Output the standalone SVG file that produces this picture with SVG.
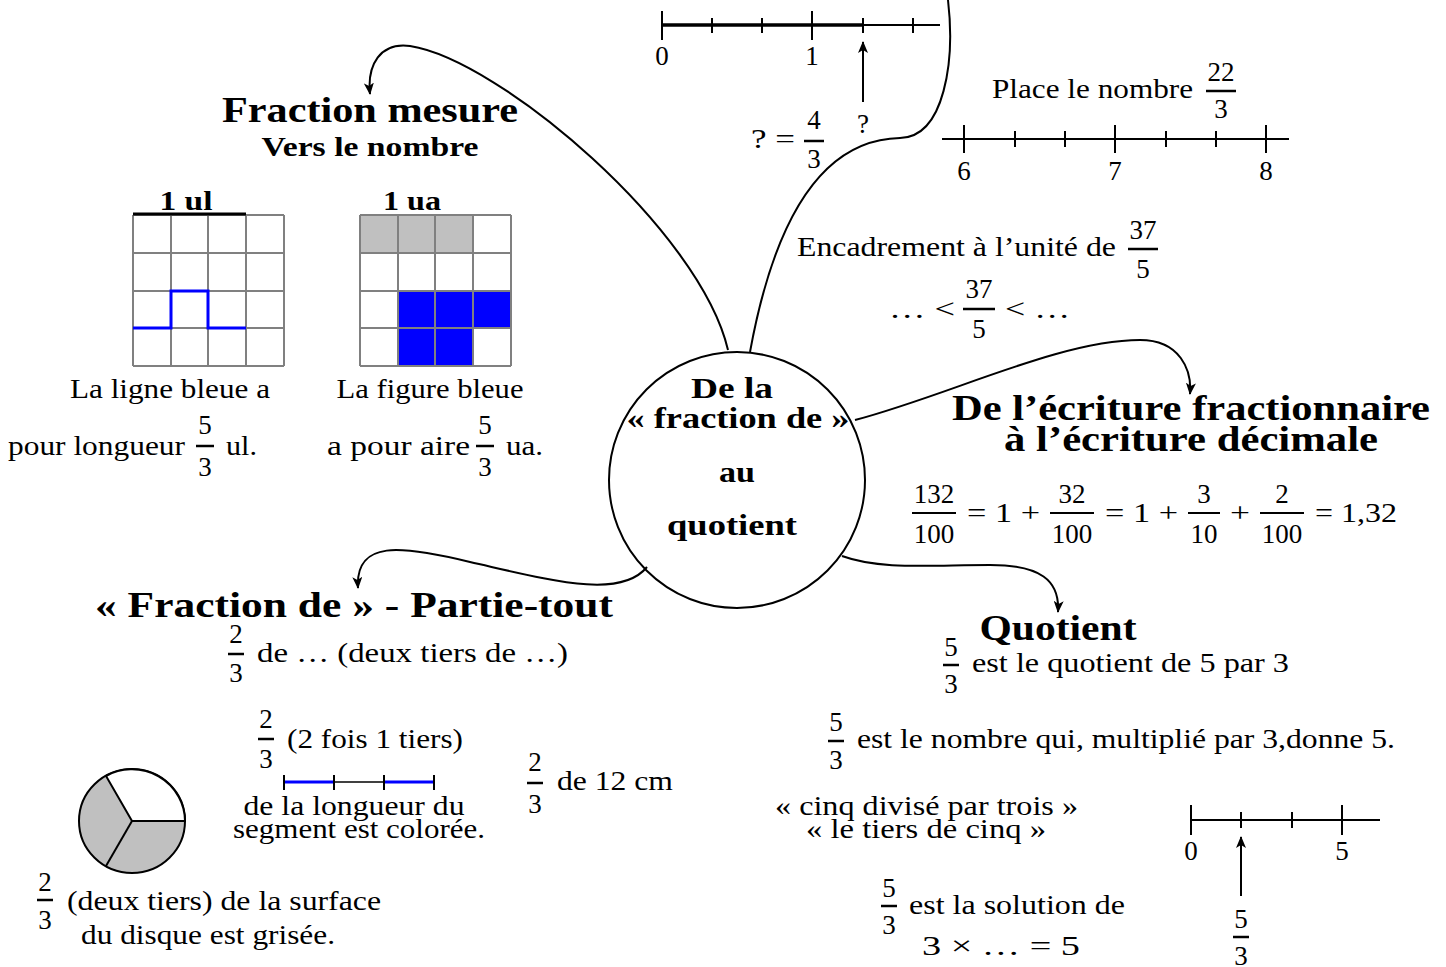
<svg xmlns="http://www.w3.org/2000/svg" width="1446" height="967" viewBox="0 0 1446 967">
<defs>
<marker id="ah" viewBox="0 0 12 10" refX="11" refY="5" markerWidth="12" markerHeight="10" markerUnits="userSpaceOnUse" orient="auto">
<path d="M0,0 L12,5 L0,10 L3,5 z" fill="#000"/>
</marker>
</defs>
<style>
text{font-family:"Liberation Serif","DejaVu Serif",serif;fill:#000}
.t{font-size:27px}
.c{text-anchor:middle}
.h{font-size:36px;font-weight:bold;text-anchor:middle}
.h2{font-size:27px;font-weight:bold;text-anchor:middle}
.b{font-size:30px;font-weight:bold;text-anchor:middle}
.fb{stroke:#000;stroke-width:2.5}
.ln{stroke:#000;stroke-width:2;fill:none}
.g{stroke:#808080;stroke-width:2;fill:none}
.con{stroke:#000;stroke-width:2;fill:none}
</style>
<rect width="1446" height="967" fill="#fff"/>

<g id="connectors">
<path class="con" d="M750,352 C765,270 800,140 900,138 C945,137 955,60 948,0"/>
<path class="con" d="M728,350 C700,230 500,60 410,46 C380,42 367,65 370,94" marker-end="url(#ah)"/>
<path class="con" d="M855,420 C950,395 1060,340 1140,340 C1180,340 1192,370 1190,394" marker-end="url(#ah)"/>
<path class="con" d="M842,556 C880,570 930,565 990,565 C1040,565 1060,580 1058,612" marker-end="url(#ah)"/>
<path class="con" d="M647,567 C620,600 550,580 470,562 C400,545 355,540 358,588" marker-end="url(#ah)"/>
</g>

<g id="center">
<circle cx="737" cy="480" r="128" fill="none" stroke="#000" stroke-width="2"/>
<text class="b" x="732" y="398" textLength="82" lengthAdjust="spacingAndGlyphs">De la</text>
<text class="b" x="738" y="428" textLength="223" lengthAdjust="spacingAndGlyphs">« fraction de »</text>
<text class="b" x="737" y="482" textLength="36" lengthAdjust="spacingAndGlyphs">au</text>
<text class="b" x="732" y="535" textLength="130" lengthAdjust="spacingAndGlyphs">quotient</text>
</g>

<g id="numberline-top">
<line x1="662" y1="25" x2="863" y2="25" stroke="#000" stroke-width="3.5"/>
<line x1="863" y1="25" x2="940" y2="25" class="ln"/>
<line x1="662" y1="11" x2="662" y2="40" class="ln"/>
<line x1="812" y1="11" x2="812" y2="40" class="ln"/>
<line x1="712" y1="18" x2="712" y2="33" class="ln"/>
<line x1="762" y1="18" x2="762" y2="33" class="ln"/>
<line x1="863" y1="18" x2="863" y2="33" class="ln"/>
<line x1="913" y1="18" x2="913" y2="33" class="ln"/>
<text class="t c" x="662" y="65">0</text>
<text class="t c" x="812" y="65">1</text>
<line x1="863" y1="102" x2="863" y2="42" class="ln" marker-end="url(#ah)"/>
<text class="t c" x="863" y="133">?</text>
<text class="t" x="751" y="148" textLength="44" lengthAdjust="spacingAndGlyphs">? =</text>
<text class="t c" x="814" y="129">4</text>
<line x1="804" y1="141" x2="824" y2="141" class="fb"/>
<text class="t c" x="814" y="168">3</text>
</g>

<g id="fraction-mesure">
<text class="h" x="370" y="122" textLength="296" lengthAdjust="spacingAndGlyphs">Fraction mesure</text>
<text class="h2" x="370" y="156" textLength="217" lengthAdjust="spacingAndGlyphs">Vers le nombre</text>
<text class="h2" x="186" y="210" textLength="53" lengthAdjust="spacingAndGlyphs">1 ul</text>
<text class="h2" x="412" y="210" textLength="58" lengthAdjust="spacingAndGlyphs">1 ua</text>
<g id="grid1">
<path class="g" d="M133,215 H284 M133,253 H284 M133,291 H284 M133,328 H284 M133,366 H284 M133,215 V366 M171,215 V366 M208,215 V366 M246,215 V366 M284,215 V366"/>
<line x1="133" y1="214" x2="246" y2="214" stroke="#000" stroke-width="3"/>
<path d="M133,328 H171 V291 H208 V328 H246" fill="none" stroke="#0000ff" stroke-width="3"/>
</g>
<g id="grid2">
<rect x="360" y="215" width="113" height="38" fill="#c0c0c0"/>
<rect x="398" y="291" width="113" height="37" fill="#0000ff"/>
<rect x="398" y="328" width="75" height="38" fill="#0000ff"/>
<path class="g" d="M360,215 H511 M360,253 H511 M360,291 H511 M360,328 H511 M360,366 H511 M360,215 V366 M398,215 V366 M435,215 V366 M473,215 V366 M511,215 V366"/>
</g>
<text class="t c" x="170" y="398" textLength="200" lengthAdjust="spacingAndGlyphs">La ligne bleue a</text>
<text class="t" x="8" y="455" textLength="177" lengthAdjust="spacingAndGlyphs">pour longueur</text>
<text class="t c" x="205" y="434">5</text>
<line x1="196" y1="446" x2="214" y2="446" class="fb"/>
<text class="t c" x="205" y="476">3</text>
<text class="t" x="226" y="455" textLength="31" lengthAdjust="spacingAndGlyphs">ul.</text>
<text class="t c" x="430" y="398" textLength="187" lengthAdjust="spacingAndGlyphs">La figure bleue</text>
<text class="t" x="327" y="455" textLength="143" lengthAdjust="spacingAndGlyphs">a pour aire</text>
<text class="t c" x="485" y="434">5</text>
<line x1="476" y1="446" x2="494" y2="446" class="fb"/>
<text class="t c" x="485" y="476">3</text>
<text class="t" x="506" y="455" textLength="37" lengthAdjust="spacingAndGlyphs">ua.</text>
</g>

<g id="place-nombre">
<text class="t" x="992" y="98" textLength="201" lengthAdjust="spacingAndGlyphs">Place le nombre</text>
<text class="t c" x="1221" y="81">22</text>
<line x1="1206" y1="91" x2="1236" y2="91" class="fb"/>
<text class="t c" x="1221" y="118">3</text>
<line x1="942" y1="139" x2="1289" y2="139" class="ln"/>
<line x1="964" y1="125" x2="964" y2="153" class="ln"/>
<line x1="1115" y1="125" x2="1115" y2="153" class="ln"/>
<line x1="1266" y1="125" x2="1266" y2="153" class="ln"/>
<line x1="1015" y1="131" x2="1015" y2="147" class="ln"/>
<line x1="1065" y1="131" x2="1065" y2="147" class="ln"/>
<line x1="1166" y1="131" x2="1166" y2="147" class="ln"/>
<line x1="1216" y1="131" x2="1216" y2="147" class="ln"/>
<text class="t c" x="964" y="180">6</text>
<text class="t c" x="1115" y="180">7</text>
<text class="t c" x="1266" y="180">8</text>
</g>

<g id="encadrement">
<text class="t" x="797" y="256" textLength="319" lengthAdjust="spacingAndGlyphs">Encadrement à l’unité de</text>
<text class="t c" x="1143" y="239">37</text>
<line x1="1128" y1="249" x2="1158" y2="249" class="fb"/>
<text class="t c" x="1143" y="278">5</text>
<text class="t" x="889" y="318" textLength="66" lengthAdjust="spacingAndGlyphs">… &lt;</text>
<text class="t c" x="979" y="298">37</text>
<line x1="963" y1="309" x2="995" y2="309" class="fb"/>
<text class="t c" x="979" y="338">5</text>
<text class="t" x="1005" y="318" textLength="65" lengthAdjust="spacingAndGlyphs">&lt; …</text>
</g>

<g id="ecriture-decimale">
<text class="h" x="1191" y="420" textLength="478" lengthAdjust="spacingAndGlyphs">De l’écriture fractionnaire</text>
<text class="h" x="1191" y="451" textLength="374" lengthAdjust="spacingAndGlyphs">à l’écriture décimale</text>
<text class="t c" x="934" y="503">132</text>
<line x1="912" y1="513" x2="956" y2="513" class="ln"/>
<text class="t c" x="934" y="543">100</text>
<text class="t" x="967" y="522" textLength="73" lengthAdjust="spacingAndGlyphs">= 1 +</text>
<text class="t c" x="1072" y="503">32</text>
<line x1="1050" y1="513" x2="1094" y2="513" class="ln"/>
<text class="t c" x="1072" y="543">100</text>
<text class="t" x="1105" y="522" textLength="73" lengthAdjust="spacingAndGlyphs">= 1 +</text>
<text class="t c" x="1204" y="503">3</text>
<line x1="1188" y1="513" x2="1220" y2="513" class="ln"/>
<text class="t c" x="1204" y="543">10</text>
<text class="t" x="1230" y="522" textLength="20" lengthAdjust="spacingAndGlyphs">+</text>
<text class="t c" x="1282" y="503">2</text>
<line x1="1260" y1="513" x2="1304" y2="513" class="ln"/>
<text class="t c" x="1282" y="543">100</text>
<text class="t" x="1315" y="522" textLength="82" lengthAdjust="spacingAndGlyphs">= 1,32</text>
</g>

<g id="quotient">
<text class="h" x="1058" y="640" textLength="157" lengthAdjust="spacingAndGlyphs">Quotient</text>
<text class="t c" x="951" y="656">5</text>
<line x1="943" y1="665" x2="959" y2="665" class="fb"/>
<text class="t c" x="951" y="693">3</text>
<text class="t" x="972" y="672" textLength="317" lengthAdjust="spacingAndGlyphs">est le quotient de 5 par 3</text>
<text class="t c" x="836" y="731">5</text>
<line x1="828" y1="741" x2="844" y2="741" class="fb"/>
<text class="t c" x="836" y="769">3</text>
<text class="t" x="857" y="748" textLength="538" lengthAdjust="spacingAndGlyphs">est le nombre qui, multiplié par 3,donne 5.</text>
<text class="t" x="775" y="815" textLength="303" lengthAdjust="spacingAndGlyphs">«  cinq divisé par trois »</text>
<text class="t" x="806" y="838" textLength="240" lengthAdjust="spacingAndGlyphs">«  le tiers de cinq »</text>
<text class="t c" x="889" y="897">5</text>
<line x1="881" y1="906" x2="897" y2="906" class="fb"/>
<text class="t c" x="889" y="934">3</text>
<text class="t" x="909" y="914" textLength="216" lengthAdjust="spacingAndGlyphs">est la solution de</text>
<text class="t" x="922" y="955" textLength="158" lengthAdjust="spacingAndGlyphs">3 × … = 5</text>
<line x1="1191" y1="820" x2="1380" y2="820" class="ln"/>
<line x1="1191" y1="805" x2="1191" y2="835" class="ln"/>
<line x1="1342" y1="805" x2="1342" y2="835" class="ln"/>
<line x1="1241" y1="812" x2="1241" y2="828" class="ln"/>
<line x1="1292" y1="812" x2="1292" y2="828" class="ln"/>
<text class="t c" x="1191" y="860">0</text>
<text class="t c" x="1342" y="860">5</text>
<line x1="1241" y1="896" x2="1241" y2="837" class="ln" marker-end="url(#ah)"/>
<text class="t c" x="1241" y="928">5</text>
<line x1="1233" y1="937" x2="1249" y2="937" class="fb"/>
<text class="t c" x="1241" y="965">3</text>
</g>

<g id="fraction-de">
<text class="h" x="354" y="617" textLength="518" lengthAdjust="spacingAndGlyphs">« Fraction de » - Partie-tout</text>
<text class="t c" x="236" y="643">2</text>
<line x1="228" y1="654" x2="244" y2="654" class="fb"/>
<text class="t c" x="236" y="682">3</text>
<text class="t" x="257" y="662" textLength="311" lengthAdjust="spacingAndGlyphs">de … (deux tiers de …)</text>
<text class="t c" x="266" y="728">2</text>
<line x1="258" y1="739" x2="274" y2="739" class="fb"/>
<text class="t c" x="266" y="768">3</text>
<text class="t" x="287" y="748" textLength="176" lengthAdjust="spacingAndGlyphs">(2 fois 1 tiers)</text>
<line x1="284" y1="782" x2="334" y2="782" stroke="#0000ff" stroke-width="3"/>
<line x1="334" y1="782" x2="384" y2="782" stroke="#404040" stroke-width="2"/>
<line x1="384" y1="782" x2="434" y2="782" stroke="#0000ff" stroke-width="3"/>
<path class="ln" d="M284,775 V790 M334,775 V790 M384,775 V790 M434,775 V790"/>
<text class="t c" x="354" y="815" textLength="221" lengthAdjust="spacingAndGlyphs">de la longueur du</text>
<text class="t c" x="359" y="838" textLength="252" lengthAdjust="spacingAndGlyphs">segment est colorée.</text>
<text class="t c" x="535" y="771">2</text>
<line x1="527" y1="783" x2="543" y2="783" class="fb"/>
<text class="t c" x="535" y="813">3</text>
<text class="t" x="557" y="790" textLength="116" lengthAdjust="spacingAndGlyphs">de 12 cm</text>
<g id="disque">
<ellipse cx="132" cy="821" rx="53" ry="52" fill="#c0c0c0" stroke="#000" stroke-width="2"/>
<path d="M132,821 L106,776 A53,52 0 0 1 185,821 Z" fill="#fff" stroke="#000" stroke-width="2"/>
<line x1="132" y1="821" x2="106" y2="866" class="ln"/>
</g>
<text class="t c" x="45" y="891">2</text>
<line x1="37" y1="900" x2="53" y2="900" class="fb"/>
<text class="t c" x="45" y="929">3</text>
<text class="t" x="67" y="910" textLength="314" lengthAdjust="spacingAndGlyphs">(deux tiers) de la surface</text>
<text class="t c" x="208" y="944" textLength="254" lengthAdjust="spacingAndGlyphs">du disque est grisée.</text>
</g>
</svg>
